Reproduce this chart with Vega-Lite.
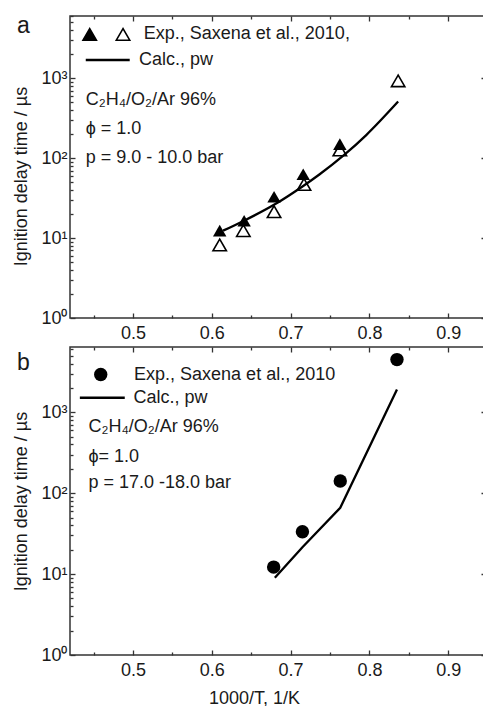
{
  "$schema": "https://vega.github.io/schema/vega-lite/v6.json",
  "background": "white",
  "padding": {"left": 12, "top": 13, "right": 0, "bottom": 0},
  "spacing": 2,
  "config": {
    "font": "Liberation Sans",
    "view": {"stroke": "#333", "strokeWidth": 1.5},
    "axis": {
      "grid": false,
      "domainColor": "#333",
      "domainWidth": 1.5,
      "tickColor": "#333",
      "tickWidth": 1.3,
      "labelFont": "Liberation Sans",
      "labelFontSize": 18,
      "labelColor": "#1a1a1a",
      "titleFont": "Liberation Sans",
      "titleFontSize": 18,
      "titleFontWeight": "normal",
      "titleColor": "#1a1a1a"
    }
  },
  "datasets": {
    "a_exp": [
      {"x": 0.610, "y": 8.2, "series": "open"},
      {"x": 0.640, "y": 12.4, "series": "open"},
      {"x": 0.679, "y": 21.4, "series": "open"},
      {"x": 0.717, "y": 47, "series": "open"},
      {"x": 0.7625, "y": 127, "series": "open"},
      {"x": 0.8365, "y": 930, "series": "open"},
      {"x": 0.610, "y": 12.4, "series": "filled"},
      {"x": 0.641, "y": 16.5, "series": "filled"},
      {"x": 0.679, "y": 33, "series": "filled"},
      {"x": 0.716, "y": 63, "series": "filled"},
      {"x": 0.7625, "y": 150, "series": "filled"}
    ],
    "a_calc": [
      {"x": 0.6143, "y": 12.4},
      {"x": 0.6397, "y": 16.3},
      {"x": 0.680, "y": 26.5},
      {"x": 0.716, "y": 45},
      {"x": 0.7365, "y": 62.6},
      {"x": 0.768, "y": 110},
      {"x": 0.796, "y": 195},
      {"x": 0.8365, "y": 512}
    ],
    "a_legsym": [
      {"x": 0.445, "y": 3550, "series": "filled"},
      {"x": 0.4873, "y": 3550, "series": "open"}
    ],
    "a_legline": [
      {"x": 0.440, "y": 1700},
      {"x": 0.4958, "y": 1700}
    ],
    "a_text": [
      {"x": 0.5136, "y": 3550, "text": "Exp., Saxena et al., 2010,"},
      {"x": 0.5076, "y": 1700, "text": "Calc., pw"},
      {"x": 0.440, "y": 537, "text": "C₂H₄/O₂/Ar 96%"},
      {"x": 0.440, "y": 230, "text": "ϕ = 1.0"},
      {"x": 0.440, "y": 102, "text": "p = 9.0 - 10.0  bar"}
    ],
    "a_label": [
      {"x": 0.3527, "y": 3725, "text": "a"}
    ],
    "b_exp": [
      {"x": 0.6785, "y": 12.2},
      {"x": 0.715, "y": 33.4},
      {"x": 0.763, "y": 141},
      {"x": 0.835, "y": 4470}
    ],
    "b_calc": [
      {"x": 0.680, "y": 9.0},
      {"x": 0.715, "y": 21.5},
      {"x": 0.763, "y": 66},
      {"x": 0.835, "y": 1905}
    ],
    "b_legsym": [
      {"x": 0.459, "y": 2920}
    ],
    "b_legline": [
      {"x": 0.4325, "y": 1506},
      {"x": 0.4895, "y": 1506}
    ],
    "b_text": [
      {"x": 0.5013, "y": 2920, "text": "Exp., Saxena et al., 2010"},
      {"x": 0.5005, "y": 1506, "text": "Calc., pw"},
      {"x": 0.4435, "y": 660, "text": "C₂H₄/O₂/Ar 96%"},
      {"x": 0.4435, "y": 281, "text": "ϕ= 1.0"},
      {"x": 0.4435, "y": 132, "text": "p = 17.0 -18.0 bar"}
    ],
    "b_label": [
      {"x": 0.3527, "y": 3365, "text": "b"}
    ]
  },
  "vconcat": [
    {
      "width": 416,
      "height": 302,
      "layer": [
        {
          "data": {"name": "a_calc"},
          "mark": {"type": "line", "color": "black", "strokeWidth": 2.3, "interpolate": "monotone"},
          "encoding": {
            "x": {"field": "x", "type": "quantitative",
              "scale": {"domain": [0.42, 0.948], "nice": false, "zero": false},
              "axis": {"orient": "top", "title": null, "labels": false, "domain": false,
                "values": [0.45, 0.5, 0.55, 0.6, 0.65, 0.7, 0.75, 0.8, 0.85, 0.9],
                "tickSize": {"condition": {"test": "abs(datum.value*10 - round(datum.value*10)) < 0.001", "value": -5}, "value": -3}}},
            "y": {"field": "y", "type": "quantitative",
              "scale": {"type": "log", "domain": [1, 6030], "nice": false},
              "axis": {"orient": "right", "title": null, "labels": false, "domain": false,
                "values": [1, 10, 100, 1000], "tickSize": -5}}
          }
        },
        {
          "data": {"name": "a_exp"},
          "transform": [{"filter": "datum.series == 'open'"}],
          "mark": {"type": "point", "shape": "triangle-up", "filled": false, "stroke": "black", "strokeWidth": 1.6, "size": 180, "opacity": 1},
          "encoding": {
            "x": {"field": "x", "type": "quantitative",
              "axis": {"orient": "bottom", "title": null, "domain": false,
                "values": [0.45, 0.5, 0.55, 0.6, 0.65, 0.7, 0.75, 0.8, 0.85, 0.9],
                "labelExpr": "abs(datum.value*10 - round(datum.value*10)) < 0.001 ? format(datum.value, '.1f') : ''",
                "labelPadding": 11,
                "tickSize": {"condition": {"test": "abs(datum.value*10 - round(datum.value*10)) < 0.001", "value": -5}, "value": -3}}},
            "y": {"field": "y", "type": "quantitative",
              "axis": {"orient": "left", "title": "Ignition delay time / µs", "domain": false,
                "values": [1, 2, 3, 4, 5, 6, 7, 8, 9, 10, 20, 30, 40, 50, 60, 70, 80, 90, 100, 200, 300, 400, 500, 600, 700, 800, 900, 1000, 2000, 3000, 4000, 5000, 6000],
                "labelExpr": "datum.value == 1 ? '10⁰' : datum.value == 10 ? '10¹' : datum.value == 100 ? '10²' : datum.value == 1000 ? '10³' : ''",
                "labelPadding": 8,
                "titlePadding": 10,
                "titleY": 160,
                "tickSize": {"condition": {"test": "indexof([1, 10, 100, 1000], datum.value) >= 0", "value": -5}, "value": -3}}}
          }
        },
        {
          "data": {"name": "a_exp"},
          "transform": [{"filter": "datum.series == 'filled'"}],
          "mark": {"type": "point", "shape": "triangle-up", "filled": true, "fill": "black", "size": 180, "opacity": 1},
          "encoding": {
            "x": {"field": "x", "type": "quantitative", "axis": null},
            "y": {"field": "y", "type": "quantitative", "axis": null}
          }
        },
        {
          "data": {"name": "a_legsym"},
          "mark": {"type": "point", "shape": "triangle-up", "size": 180, "opacity": 1, "strokeWidth": 1.6},
          "encoding": {
            "x": {"field": "x", "type": "quantitative", "axis": null},
            "y": {"field": "y", "type": "quantitative", "axis": null},
            "fill": {"field": "series", "type": "nominal", "scale": {"domain": ["filled", "open"], "range": ["black", "transparent"]}, "legend": null},
            "stroke": {"value": "black"}
          }
        },
        {
          "data": {"name": "a_legline"},
          "mark": {"type": "line", "color": "black", "strokeWidth": 2.5},
          "encoding": {
            "x": {"field": "x", "type": "quantitative", "axis": null},
            "y": {"field": "y", "type": "quantitative", "axis": null}
          }
        },
        {
          "data": {"name": "a_text"},
          "mark": {"type": "text", "align": "left", "baseline": "middle", "fontSize": 18, "color": "#1a1a1a", "font": "Liberation Sans"},
          "encoding": {
            "x": {"field": "x", "type": "quantitative", "axis": null},
            "y": {"field": "y", "type": "quantitative", "axis": null},
            "text": {"field": "text"}
          }
        },
        {
          "data": {"name": "a_label"},
          "mark": {"type": "text", "align": "left", "baseline": "alphabetic", "fontSize": 23, "color": "#1a1a1a", "font": "Liberation Sans"},
          "encoding": {
            "x": {"field": "x", "type": "quantitative", "axis": null},
            "y": {"field": "y", "type": "quantitative", "axis": null},
            "text": {"field": "text"}
          }
        }
      ],
      "resolve": {"axis": {"x": "independent", "y": "independent"}}
    },
    {
      "width": 416,
      "height": 308,
      "layer": [
        {
          "data": {"name": "b_calc"},
          "mark": {"type": "line", "color": "black", "strokeWidth": 2.3},
          "encoding": {
            "x": {"field": "x", "type": "quantitative",
              "scale": {"domain": [0.42, 0.948], "nice": false, "zero": false},
              "axis": {"orient": "top", "title": null, "labels": false, "domain": false,
                "values": [0.45, 0.5, 0.55, 0.6, 0.65, 0.7, 0.75, 0.8, 0.85, 0.9],
                "tickSize": {"condition": {"test": "abs(datum.value*10 - round(datum.value*10)) < 0.001", "value": -5}, "value": -3}}},
            "y": {"field": "y", "type": "quantitative",
              "scale": {"type": "log", "domain": [1, 6400], "nice": false},
              "axis": {"orient": "right", "title": null, "labels": false, "domain": false,
                "values": [1, 10, 100, 1000], "tickSize": -5}}
          }
        },
        {
          "data": {"name": "b_exp"},
          "mark": {"type": "point", "shape": "circle", "filled": true, "fill": "black", "size": 180, "opacity": 1},
          "encoding": {
            "x": {"field": "x", "type": "quantitative",
              "axis": {"orient": "bottom", "title": "1000/T, 1/K", "domain": false, "titlePadding": 10, "titleX": 184,
                "values": [0.45, 0.5, 0.55, 0.6, 0.65, 0.7, 0.75, 0.8, 0.85, 0.9],
                "labelExpr": "abs(datum.value*10 - round(datum.value*10)) < 0.001 ? format(datum.value, '.1f') : ''",
                "labelPadding": 11,
                "tickSize": {"condition": {"test": "abs(datum.value*10 - round(datum.value*10)) < 0.001", "value": -5}, "value": -3}}},
            "y": {"field": "y", "type": "quantitative",
              "axis": {"orient": "left", "title": "Ignition delay time / µs", "domain": false,
                "values": [1, 2, 3, 4, 5, 6, 7, 8, 9, 10, 20, 30, 40, 50, 60, 70, 80, 90, 100, 200, 300, 400, 500, 600, 700, 800, 900, 1000, 2000, 3000, 4000, 5000, 6000],
                "labelExpr": "datum.value == 1 ? '10⁰' : datum.value == 10 ? '10¹' : datum.value == 100 ? '10²' : datum.value == 1000 ? '10³' : ''",
                "labelPadding": 8,
                "titlePadding": 10,
                "tickSize": {"condition": {"test": "indexof([1, 10, 100, 1000], datum.value) >= 0", "value": -5}, "value": -3}}}
          }
        },
        {
          "data": {"name": "b_legsym"},
          "mark": {"type": "point", "shape": "circle", "filled": true, "fill": "black", "size": 180, "opacity": 1},
          "encoding": {
            "x": {"field": "x", "type": "quantitative", "axis": null},
            "y": {"field": "y", "type": "quantitative", "axis": null}
          }
        },
        {
          "data": {"name": "b_legline"},
          "mark": {"type": "line", "color": "black", "strokeWidth": 2.5},
          "encoding": {
            "x": {"field": "x", "type": "quantitative", "axis": null},
            "y": {"field": "y", "type": "quantitative", "axis": null}
          }
        },
        {
          "data": {"name": "b_text"},
          "mark": {"type": "text", "align": "left", "baseline": "middle", "fontSize": 18, "color": "#1a1a1a", "font": "Liberation Sans"},
          "encoding": {
            "x": {"field": "x", "type": "quantitative", "axis": null},
            "y": {"field": "y", "type": "quantitative", "axis": null},
            "text": {"field": "text"}
          }
        },
        {
          "data": {"name": "b_label"},
          "mark": {"type": "text", "align": "left", "baseline": "alphabetic", "fontSize": 23, "color": "#1a1a1a", "font": "Liberation Sans"},
          "encoding": {
            "x": {"field": "x", "type": "quantitative", "axis": null},
            "y": {"field": "y", "type": "quantitative", "axis": null},
            "text": {"field": "text"}
          }
        }
      ],
      "resolve": {"axis": {"x": "independent", "y": "independent"}}
    }
  ]
}
